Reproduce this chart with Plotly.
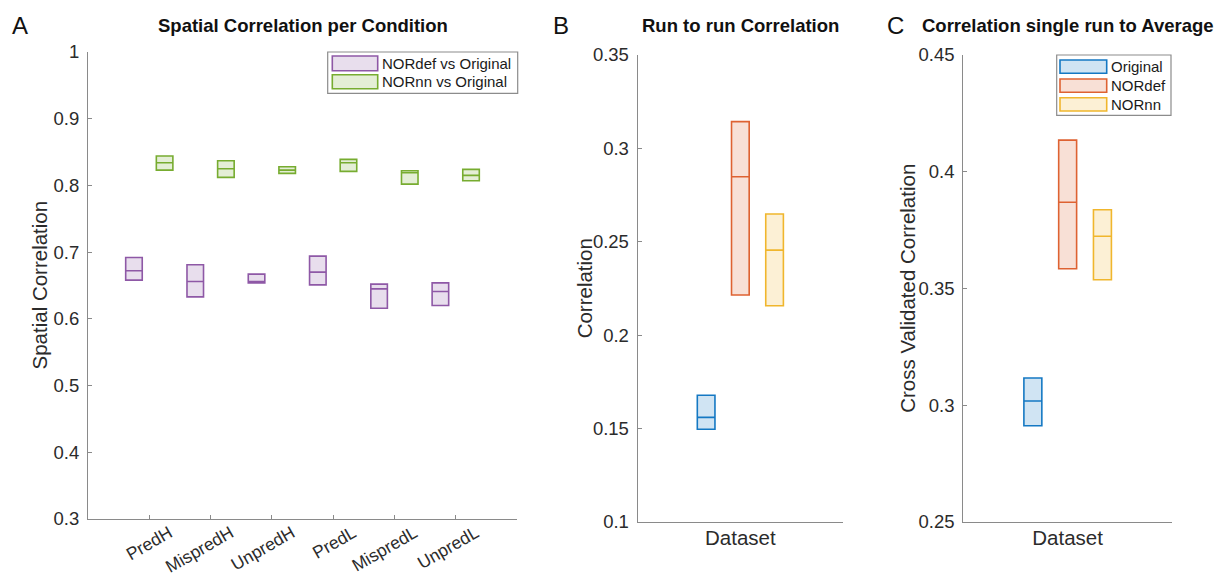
import plotly.graph_objects as go

# ---- data ---------------------------------------------------------------
conditions = ["PredH", "MispredH", "UnpredH", "PredL", "MispredL", "UnpredL"]

# Spatial correlation per condition (quartiles)
nordef_q1 = [0.658, 0.633, 0.654, 0.651, 0.616, 0.620]
nordef_med = [0.672, 0.656, 0.656, 0.670, 0.645, 0.641]
nordef_q3 = [0.692, 0.681, 0.667, 0.694, 0.652, 0.654]

nornn_q1 = [0.823, 0.812, 0.818, 0.821, 0.802, 0.807]
nornn_med = [0.834, 0.825, 0.823, 0.834, 0.819, 0.815]
nornn_q3 = [0.844, 0.837, 0.828, 0.839, 0.822, 0.824]

datasets = ["Original", "NORdef", "NORnn"]

# Run to run correlation (quartiles)
run_q1 = [0.1495, 0.2214, 0.2157]
run_med = [0.1559, 0.2848, 0.2455]
run_q3 = [0.1677, 0.3143, 0.2648]

# Correlation of single run to average (quartiles)
avg_q1 = [0.2911, 0.3584, 0.3537]
avg_med = [0.3017, 0.3869, 0.3723]
avg_q3 = [0.3116, 0.4135, 0.3837]

# ---- styling ------------------------------------------------------------
W, H = 1215, 580
FONT = "Liberation Sans, Arial, Helvetica, sans-serif"
TXT = "#2b2b2b"
AX = "#8a8a8a"

def rgba(rgb, a):
    return "rgba(%d,%d,%d,%.2f)" % (rgb[0], rgb[1], rgb[2], a)

PURPLE = (142, 88, 166)
GREEN = (119, 172, 48)
BLUE = (20, 120, 195)
ORANGE = (222, 98, 50)
YELLOW = (240, 182, 45)
ds_colors = [BLUE, ORANGE, YELLOW]

def px(x):
    return x / W

def py(y):
    return 1 - y / H

fig = go.Figure()


def add_box(xaxis, yaxis, pos, q1, med, q3, color, width, name):
    fig.add_trace(go.Box(
        x=pos, q1=q1, median=med, q3=q3, lowerfence=q1, upperfence=q3,
        xaxis=xaxis, yaxis=yaxis, width=width, whiskerwidth=0,
        line=dict(color=rgba(color, 1), width=1.6),
        fillcolor=rgba(color, 0.2), boxpoints=False,
        name=name, showlegend=False, hoverinfo="skip",
    ))


# Panel A: two groups per condition
idx = list(range(1, len(conditions) + 1))
add_box("x", "y", [i - 0.25 for i in idx], nordef_q1, nordef_med, nordef_q3,
        PURPLE, 0.27, "NORdef vs Original")
add_box("x", "y", [i + 0.25 for i in idx], nornn_q1, nornn_med, nornn_q3,
        GREEN, 0.27, "NORnn vs Original")

# Panels B and C: three datasets grouped around a single category
offsets = [-1 / 6, 0, 1 / 6]
for k, name in enumerate(datasets):
    add_box("x2", "y2", [1 + offsets[k]], [run_q1[k]], [run_med[k]], [run_q3[k]],
            ds_colors[k], 0.086, name)
    add_box("x3", "y3", [1 + offsets[k]], [avg_q1[k]], [avg_med[k]], [avg_q3[k]],
            ds_colors[k], 0.086, name)

TICK_SIZE = 18.5
LABEL_SIZE = 20.5

axis_common = dict(
    showline=True, linecolor=AX, linewidth=1.2, mirror=False,
    showgrid=False, zeroline=False, ticks="inside", ticklen=4,
    tickcolor=AX, tickwidth=1, automargin=False,
    tickfont=dict(family=FONT, size=TICK_SIZE, color=TXT),
)

ydom_a = [py(519), py(52)]
ydom_bc = [py(521.7), py(55)]

fig.update_layout(
    width=W, height=H,
    margin=dict(l=0, r=0, t=0, b=0, autoexpand=False),
    paper_bgcolor="white", plot_bgcolor="white",
    boxmode="overlay", showlegend=False,
    font=dict(family=FONT, color=TXT),
    xaxis=dict(axis_common, domain=[px(88), px(517)], range=[0, 7],
               tickmode="array", tickvals=idx, ticktext=conditions,
               tickangle=-30, ticklabelshift=20, ticklabelstandoff=-4,
               tickfont=dict(family=FONT, size=17.5, color=TXT),
               anchor="y"),
    yaxis=dict(axis_common, domain=ydom_a, range=[0.3, 1.0], dtick=0.1,
               tick0=0.3, ticklabelstandoff=4, anchor="x"),
    xaxis2=dict(axis_common, domain=[px(637.7), px(843)], range=[0.5, 1.5],
                showticklabels=False, ticks="", anchor="y2",
                title=dict(text="Dataset", standoff=8,
                           font=dict(family=FONT, size=LABEL_SIZE, color=TXT))),
    yaxis2=dict(axis_common, domain=ydom_bc, range=[0.1, 0.35], dtick=0.05,
                tick0=0.1, ticklabelstandoff=4, anchor="x2"),
    xaxis3=dict(axis_common, domain=[px(963.3), px(1172)], range=[0.5, 1.5],
                showticklabels=False, ticks="", anchor="y3",
                title=dict(text="Dataset", standoff=8,
                           font=dict(family=FONT, size=LABEL_SIZE, color=TXT))),
    yaxis3=dict(axis_common, domain=ydom_bc, range=[0.25, 0.45], dtick=0.05,
                tick0=0.25, ticklabelstandoff=4, anchor="x3"),
)

# Vertical axis titles
for text, cx, cy in [("Spatial Correlation", 39, (52 + 519) / 2),
                     ("Correlation", 584, (55 + 521.7) / 2),
                     ("Cross Validated Correlation", 907.5, (55 + 521.7) / 2)]:
    fig.add_annotation(text=text, x=px(cx), y=py(cy), xref="paper",
                       yref="paper", showarrow=False, textangle=-90,
                       xanchor="center", yanchor="middle",
                       font=dict(family=FONT, size=LABEL_SIZE, color=TXT))

# Panel titles and letters
titles = [
    ("Spatial Correlation per Condition", (88 + 517) / 2),
    ("Run to run Correlation", (637.7 + 843) / 2),
    ("Correlation single run to Average", (963.3 + 1172) / 2),
]
for text, cx in titles:
    fig.add_annotation(text="<b>%s</b>" % text, x=px(cx), y=py(25),
                       xref="paper", yref="paper", showarrow=False,
                       xanchor="center", yanchor="middle",
                       font=dict(family=FONT, size=18.5, color="#111111"))

for letter, lx in [("A", 20), ("B", 561), ("C", 895)]:
    fig.add_annotation(text=letter, x=px(lx), y=py(26), xref="paper",
                       yref="paper", showarrow=False, xanchor="center",
                       yanchor="middle",
                       font=dict(family=FONT, size=24, color="#111111"))


# Legends drawn as boxes with wide swatches
def draw_legend(box, entries, icon_x, rows, text_x):
    x0, y0, x1, y1 = box
    fig.add_shape(type="rect", xref="paper", yref="paper",
                  x0=px(x0), x1=px(x1), y0=py(y1), y1=py(y0),
                  line=dict(color="#8c8c8c", width=1.2), fillcolor="white",
                  layer="above")
    for (label, color), (ry0, ry1) in zip(entries, rows):
        fig.add_shape(type="rect", xref="paper", yref="paper",
                      x0=px(icon_x[0]), x1=px(icon_x[1]),
                      y0=py(ry1), y1=py(ry0),
                      line=dict(color=rgba(color, 1), width=1.6),
                      fillcolor=rgba(color, 0.2), layer="above")
        fig.add_annotation(text=label, x=px(text_x), y=py((ry0 + ry1) / 2),
                           xref="paper", yref="paper", showarrow=False,
                           xanchor="left", yanchor="middle",
                           font=dict(family=FONT, size=15, color="#1a1a1a"))


draw_legend((327.7, 52, 517.7, 93.3),
            [("NORdef vs Original", PURPLE), ("NORnn vs Original", GREEN)],
            (332.3, 377.7), [(56, 70.7), (74.7, 88.7)], 380)
draw_legend((1056.7, 55, 1171, 115.3),
            list(zip(datasets, ds_colors)),
            (1060, 1106.7), [(60, 73.3), (79, 92.3), (97.7, 111)], 1108.5)

fig.write_html("out.html")
